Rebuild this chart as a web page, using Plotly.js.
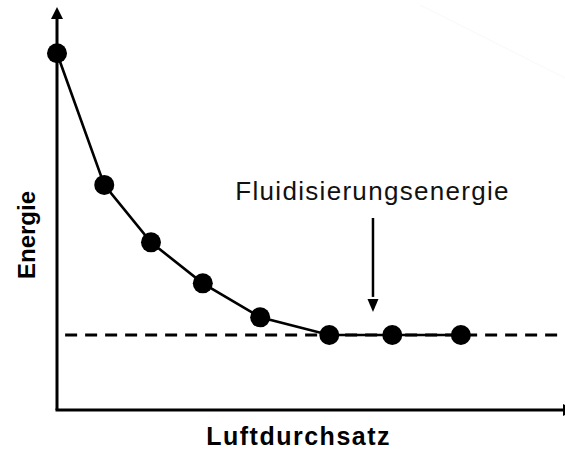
<!DOCTYPE html>
<html><head><meta charset="utf-8">
<script src="https://cdn.plot.ly/plotly-3.0.1.min.js"></script>
<style>
html,body{margin:0;padding:0;background:#fff}
#chart{width:565px;height:450px}
g.annotation[data-index="0"] text{letter-spacing:1.3px}
g.annotation[data-index="2"] text{letter-spacing:1.5px}
</style></head><body><div id="chart"></div>
<script>
// data (arbitrary units)
const luftdurchsatz = [0, 0.93, 1.85, 2.87, 4.0, 5.36, 6.6, 7.95];
const energie = [8.70, 5.49, 4.09, 3.09, 2.26, 1.83, 1.83, 1.83];
const fluidEnergie = 1.83;
const dashX = [0.16, 10];
const noteX = 6.22;
const labelX = 'Luftdurchsatz';
const labelY = 'Energie';
const labelNote = 'Fluidisierungsenergie';

const W = 565, H = 450, ML = 57, MB = 40;
const PW = W - ML, PH = H - MB;
const sy = PH / 10;               // px per y unit
// pixel -> paper
const px = x => (x - ML) / PW;
const py = y => (PH - y) / PH;

const font = '"Liberation Sans", Arial, sans-serif';

const traces = [
  {x: dashX, y: [fluidEnergie, fluidEnergie], mode: 'lines',
   line: {color: '#000', width: 3, dash: '12px,8px'}, hoverinfo: 'skip', cliponaxis: false},
  {x: luftdurchsatz, y: energie, mode: 'lines+markers',
   line: {color: '#000', width: 2.6}, marker: {color: '#000', size: 20},
   cliponaxis: false}
];

const noteTipY = fluidEnergie + 23 / sy;
const noteTopY = fluidEnergie + 117 / sy;
const noteHeadY = noteTipY + 13 / sy;
const hw = 5.5 * 10 / PW;

const shapes = [
  // y axis
  {type: 'line', xref: 'paper', yref: 'paper', x0: 0, x1: 0, y0: py(410), y1: py(18),
   line: {color: '#000', width: 3}, layer: 'below'},
  {type: 'path', xref: 'paper', yref: 'paper',
   path: `M${px(51)},${py(19)} L${px(63)},${py(19)} L${px(57)},${py(7)} Z`,
   fillcolor: '#000', line: {width: 0}, layer: 'below'},
  // x axis
  {type: 'line', xref: 'paper', yref: 'paper', x0: px(55.5), x1: px(565), y0: py(410), y1: py(410),
   line: {color: '#000', width: 3}, layer: 'below'},
  {type: 'path', xref: 'paper', yref: 'paper',
   path: `M${px(563)},${py(404)} L${px(563)},${py(416)} L${px(575)},${py(410)} Z`,
   fillcolor: '#000', line: {width: 0}, layer: 'below'},
  // note arrow
  {type: 'line', xref: 'x', yref: 'y', x0: noteX, x1: noteX, y0: noteTopY, y1: noteHeadY + 0.05,
   line: {color: '#000', width: 2.5}},
  {type: 'path', xref: 'x', yref: 'y',
   path: `M${noteX - hw},${noteHeadY} L${noteX + hw},${noteHeadY} L${noteX},${noteTipY} Z`,
   fillcolor: '#000', line: {width: 0}},
  // faint line top right
  {type: 'line', xref: 'paper', yref: 'paper', x0: px(420), x1: px(565), y0: py(5), y1: py(78),
   line: {color: '#f8f8f8', width: 1}, layer: 'below'}
];

const annotations = [
  {text: labelNote, x: noteX, y: fluidEnergie + 144 / sy, xref: 'x', yref: 'y',
   showarrow: false, xanchor: 'center', yanchor: 'middle',
   font: {family: font, size: 26, color: '#111'}},
  {text: labelY, x: px(26), y: py(235), xref: 'paper', yref: 'paper', textangle: -90,
   showarrow: false, xanchor: 'center', yanchor: 'middle',
   font: {family: font, size: 24, color: '#000', weight: 'bold'}},
  {text: labelX, x: px(298.5), y: py(436), xref: 'paper', yref: 'paper',
   showarrow: false, xanchor: 'center', yanchor: 'middle',
   font: {family: font, size: 25, color: '#000', weight: 'bold'}}
];

const layout = {
  width: W, height: H,
  margin: {l: ML, r: 0, t: 0, b: MB, pad: 0},
  paper_bgcolor: '#fff', plot_bgcolor: '#fff',
  showlegend: false,
  xaxis: {range: [0, 10], visible: false, fixedrange: true},
  yaxis: {range: [0, 10], visible: false, fixedrange: true},
  shapes: shapes, annotations: annotations
};

Plotly.newPlot('chart', traces, layout, {displayModeBar: false, staticPlot: true});
</script></body></html>
